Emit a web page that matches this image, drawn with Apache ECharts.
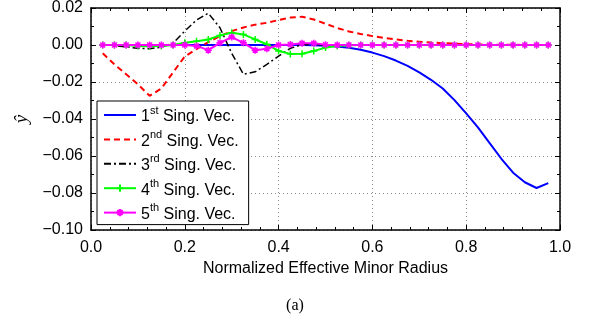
<!DOCTYPE html>
<html>
<head>
<meta charset="utf-8">
<script src="https://cdn.jsdelivr.net/npm/echarts@6/dist/echarts.min.js"></script>
<style>html,body{margin:0;padding:0;background:#fff}#c{width:590px;height:322px}</style>
</head>
<body>
<div id="c"></div>
<script>
var xVals = [0.025,0.05,0.075,0.1,0.125,0.15,0.175,0.2,0.225,0.25,0.275,0.3,0.325,0.35,0.375,0.4,0.425,0.45,0.475,0.5,0.525,0.55,0.575,0.6,0.625,0.65,0.675,0.7,0.725,0.75,0.775,0.8,0.825,0.85,0.875,0.9,0.925,0.95,0.975];
var sv1 = [0,0,0,0,0,0,0,0,0,0,0,0,0,0,0,0,0,0,-0.0002,-0.0004,-0.0008,-0.0015,-0.0026,-0.0041,-0.006,-0.0084,-0.0113,-0.0148,-0.0188,-0.0235,-0.0298,-0.037,-0.0445,-0.053,-0.0615,-0.069,-0.0742,-0.0773,-0.0747];
var sv2 = [-0.0045,-0.0105,-0.0158,-0.0212,-0.0275,-0.0235,-0.0148,-0.0062,-0.0022,0.0015,0.0048,0.0075,0.0095,0.011,0.012,0.0135,0.0148,0.0153,0.0138,0.0115,0.0092,0.0073,0.006,0.0048,0.0038,0.003,0.0023,0.0018,0.0013,0.001,0.0007,0.0004,0.0003,0.0002,0.0001,0.0001,0,0,0];
var sv3 = [0,-0.0003,-0.001,-0.0018,-0.002,-0.0012,0.001,0.0075,0.0135,0.0172,0.0093,-0.0045,-0.0158,-0.0145,-0.0105,-0.006,-0.0018,0.0002,0.0003,0,0,0,0,0,0,0,0,0,0,0,0,0,0,0,0,0,0,0,0];
var sv4 = [0,0,0,-0.0005,-0.0007,-0.0006,0,0.0012,0.002,0.003,0.0052,0.0066,0.0057,0.003,0.0004,-0.0032,-0.0048,-0.0047,-0.0032,-0.0014,-0.0005,-0.0002,0,0,0,0,0,0,0,0,0,0,0,0,0,0,0,0,0];
var sv5 = [0,0,0,0,0,0,0,0,-0.0005,-0.0028,0.0012,0.0043,0.0012,-0.0028,-0.002,0,0.0003,0.0009,0.0009,0.0002,0,0,0,0,0,0,0,0,0,0,0,0,0,0,0,0,0,0,0];
var seriesNames = ['1st Sing. Vec.','2nd Sing. Vec.','3rd Sing. Vec.','4th Sing. Vec.','5th Sing. Vec.'];
var ordinals = [['1','st'],['2','nd'],['3','rd'],['4','th'],['5','th']];
var xTicks = [0,0.2,0.4,0.6,0.8,1.0];
var yTicks = [-0.10,-0.08,-0.06,-0.04,-0.02,0.00,0.02];

function pairs(ys){ return xVals.map(function(x,i){ return [x, ys[i]]; }); }
var FONT = 'Liberation Sans, Arial, Helvetica, sans-serif';
var SERIF = 'Liberation Serif, Times New Roman, serif';
var plusPath = 'path://M5,0L5,10M0,5L10,5';
var starPath = 'path://M5,0L5,10M0,5L10,5M1.5,1.5L8.5,8.5M1.5,8.5L8.5,1.5';
var noMark = {color:'rgba(0,0,0,0)', borderWidth:0};

function mkX(pos, labels){
  return {type:'value', position:pos, min:xTicks[0], max:xTicks[xTicks.length-1], interval:0.2,
    axisLine:{show:true, onZero:false, lineStyle:{color:'#000', width:1.5}},
    axisTick:{show:true, inside:true, length:5, lineStyle:{color:'#000', width:1}},
    minorTick:{show:true, splitNumber:5, length:3, lineStyle:{color:'#000', width:1}},
    axisLabel:{show:labels, color:'#000', fontSize:16, fontFamily:FONT, margin:10,
      formatter:function(v){return v.toFixed(1);}},
    splitLine:{show:labels, lineStyle:{color:'#8a8a8a', width:1, type:[1,3]}},
    name: labels ? 'Normalized Effective Minor Radius' : '',
    nameLocation:'middle', nameGap:30,
    nameTextStyle:{color:'#000', fontSize:16, fontFamily:FONT}
  };
}
function mkY(pos, labels){
  return {type:'value', position:pos, min:yTicks[0], max:yTicks[yTicks.length-1], interval:0.02,
    axisLine:{show:true, onZero:false, lineStyle:{color:'#000', width:1.5}},
    axisTick:{show:true, inside:true, length:5, lineStyle:{color:'#000', width:1}},
    minorTick:{show:true, splitNumber:2, length:3, lineStyle:{color:'#000', width:1}},
    axisLabel:{show:labels, color:'#000', fontSize:16, fontFamily:FONT, margin:8,
      formatter:function(v){ var s = Math.abs(v).toFixed(2); return (v < -1e-9 ? '\u2212' : '') + s; }},
    splitLine:{show:labels, lineStyle:{color:'#8a8a8a', width:1, type:[1,3]}},
    name: labels ? 'ŷ' : '',
    nameLocation:'middle', nameGap:60, nameRotate:90,
    nameTextStyle:{color:'#000', fontSize:19, fontStyle:'italic', fontFamily:SERIF}
  };
}

var chart = echarts.init(document.getElementById('c'), null, {renderer:'canvas'});
chart.setOption({
  animation:false,
  backgroundColor:'#fff',
  grid:{left:91, right:30, top:6, bottom:92},
  title:{text:'(a)', left:'center', top:293, textStyle:{color:'#000', fontSize:16, fontWeight:'normal', fontFamily:SERIF}},
  xAxis:[mkX('bottom', true), mkX('top', false)],
  yAxis:[mkY('left', true), mkY('right', false)],
  legend:{
    orient:'vertical', left:97, top:101, itemWidth:32, itemHeight:9, itemGap:4.4,
    padding:[4,10,2,6], borderColor:'#000', borderWidth:1, backgroundColor:'#fff',
    data:seriesNames,
    formatter:function(name){ var i = seriesNames.indexOf(name); var o = ordinals[i];
      return '{n|' + o[0] + '}{s|' + o[1] + '}{n| Sing. Vec.}'; },
    textStyle:{color:'#000', fontSize:16, fontFamily:FONT,
      rich:{ n:{fontSize:16, fontFamily:FONT, color:'#000', lineHeight:20, verticalAlign:'bottom'},
             s:{fontSize:11, fontFamily:FONT, color:'#000', lineHeight:12, verticalAlign:'top'} }}
  },
  series:[
    {name:seriesNames[0], type:'line', data:pairs(sv1), symbol:'circle', showSymbol:false, lineStyle:{color:'#0000ff', width:2}, itemStyle:noMark},
    {name:seriesNames[1], type:'line', data:pairs(sv2), symbol:'circle', showSymbol:false, lineStyle:{color:'#ff0000', width:2, type:[6,4]}, itemStyle:noMark},
    {name:seriesNames[2], type:'line', data:pairs(sv3), symbol:'circle', showSymbol:false, lineStyle:{color:'#000000', width:1.5, type:[7,3,2,3]}, itemStyle:noMark},
    {name:seriesNames[3], type:'line', data:pairs(sv4), symbol:plusPath, symbolSize:7, lineStyle:{color:'#00ff00', width:2}, itemStyle:{color:'#00ff00', borderColor:'#00ff00', borderWidth:1.5}},
    {name:seriesNames[4], type:'line', data:pairs(sv5), symbol:starPath, symbolSize:7, lineStyle:{color:'#ff00ff', width:2}, itemStyle:{color:'#ff00ff', borderColor:'#ff00ff', borderWidth:1.5}}
  ]
});
</script>
</body>
</html>
